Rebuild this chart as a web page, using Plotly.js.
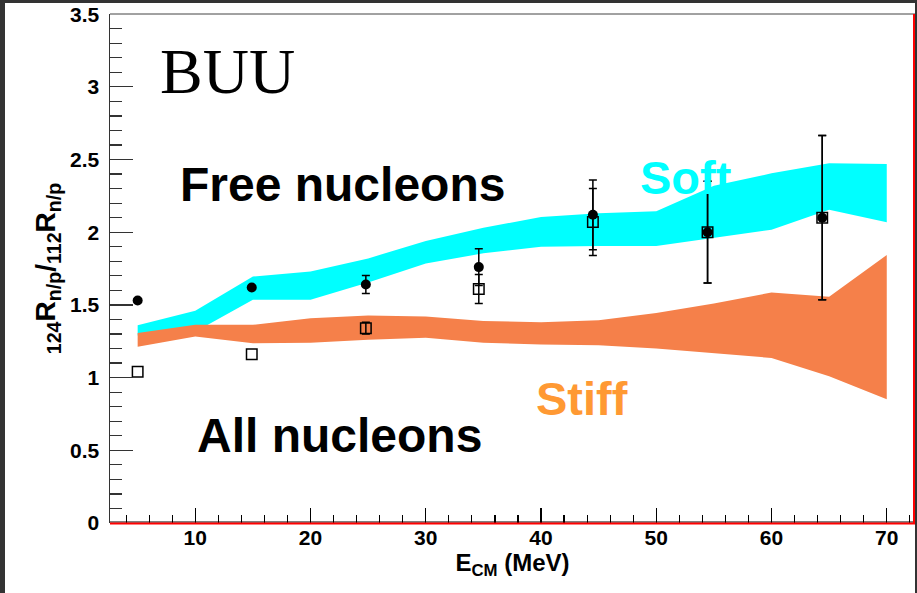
<!DOCTYPE html>
<html>
<head>
<meta charset="utf-8">
<script src="https://cdn.plot.ly/plotly-3.0.1.min.js"></script>
<style>
  html, body { margin: 0; padding: 0; background: #ffffff; }
  #chart {
    width: 910px; height: 590px;
    border-left: 5px solid #333333;
    border-top: 3px solid #333333;
    border-right: 2px solid #333333;
  }
</style>
</head>
<body>
<div id="chart"></div>
<script>
// Beam energies of the measured points (MeV)
const energy = [5.0, 14.9, 24.8, 34.6, 44.5, 54.45, 64.4];
// Double ratio 124R_n/p / 112R_n/p, free nucleons (solid circles)
const freeRatio = [1.53, 1.62, 1.64, 1.76, 2.12, 2.00, 2.10];
const freeErr   = [0, 0, 0.062, 0.126, 0.24, 0.35, 0.565];
// Double ratio, all nucleons (open squares)
const allRatio = [1.04, 1.16, 1.34, 1.61, 2.07, 2.00, 2.10];
const allErr   = [NaN, NaN, 0.04, 0.10, 0.23, 0.35, 0.565];

// BUU calculation bands
const bandE     = [5, 10, 15, 20, 25, 30, 35, 40, 45, 50, 55, 60, 65, 70];
const softHigh  = [1.36, 1.46, 1.695, 1.73, 1.82, 1.94, 2.03, 2.105, 2.13, 2.145, 2.32, 2.405, 2.475, 2.47];
const softLow   = [1.29, 1.315, 1.535, 1.535, 1.655, 1.785, 1.855, 1.90, 1.905, 1.905, 1.96, 2.017, 2.154, 2.069];
const stiffHigh = [1.306, 1.363, 1.363, 1.409, 1.427, 1.42, 1.39, 1.38, 1.395, 1.445, 1.51, 1.585, 1.557, 1.844];
const stiffLow  = [1.213, 1.282, 1.237, 1.24, 1.26, 1.275, 1.24, 1.228, 1.222, 1.20, 1.17, 1.135, 1.01, 0.851];

const xTickVals = [10, 20, 30, 40, 50, 60, 70];
const yTickVals = [0, 0.5, 1, 1.5, 2, 2.5, 3, 3.5];
const yTickText = ['0', '0.5', '1', '1.5', '2', '2.5', '3', '3.5'];

function bandTrace(hi, lo, color, name) {
  return {
    type: 'scatter', mode: 'lines', name: name,
    x: bandE.concat(bandE.slice().reverse()),
    y: hi.concat(lo.slice().reverse()),
    fill: 'toself', fillcolor: color,
    line: { width: 0, color: color },
    hoverinfo: 'skip', showlegend: false
  };
}

const traces = [
  bandTrace(softHigh, softLow, '#00ffff', 'Soft'),
  bandTrace(stiffHigh, stiffLow, '#f5804a', 'Stiff'),
  {
    type: 'scatter', mode: 'markers', name: 'All nucleons',
    x: energy, y: allRatio,
    marker: { symbol: 'square-open', size: 10.5, color: '#000000', line: { width: 1.5, color: '#000000' } },
    error_y: { type: 'data', array: allErr, visible: true, color: '#000000', thickness: 1.5, width: 4 },
    showlegend: false
  },
  {
    type: 'scatter', mode: 'markers', name: 'Free nucleons',
    x: energy, y: freeRatio,
    marker: { symbol: 'circle', size: 10, color: '#000000' },
    error_y: { type: 'data', array: freeErr, visible: true, color: '#000000', thickness: 1.5, width: 4 },
    showlegend: false
  }
];

const sansBold = { family: 'Liberation Sans, Arial, sans-serif', weight: 'bold', color: '#000000' };

const layout = {
  width: 910, height: 590,
  margin: { l: 105, r: 0, t: 11, b: 70, pad: 0 },
  paper_bgcolor: '#ffffff', plot_bgcolor: '#ffffff',
  showlegend: false,
  xaxis: {
    range: [2.6, 72.45],
    tickvals: xTickVals, ticktext: xTickVals.map(String),
    ticks: 'inside', ticklen: 15, tickwidth: 1.2, tickcolor: '#000000',
    minor: { ticks: 'inside', ticklen: 8, dtick: 2, tick0: 0, tickwidth: 1.2, tickcolor: '#000000', showgrid: false },
    showline: false, showgrid: false, zeroline: false,
    tickfont: Object.assign({ size: 21 }, sansBold),
    title: { text: 'E<sub>CM</sub> (MeV)', font: Object.assign({ size: 24 }, sansBold), standoff: 4 }
  },
  yaxis: {
    range: [0, 3.501],
    tickvals: yTickVals, ticktext: yTickText,
    ticks: 'inside', ticklen: 23, tickwidth: 1.2, tickcolor: '#333333',
    minor: { ticks: 'inside', ticklen: 12, dtick: 0.1, tick0: 0, tickwidth: 1.2, tickcolor: '#333333', showgrid: false },
    showline: true, linecolor: '#333333', linewidth: 1.5,
    showgrid: false, zeroline: false,
    ticklabelstandoff: 5,
    ticklabeloverflow: 'allow',
    tickfont: Object.assign({ size: 21 }, sansBold),
    title: {
      text: '<sub>124</sub>R<sub>n/p</sub>/<sub>112</sub>R<sub>n/p</sub>',
      font: Object.assign({ size: 28 }, sansBold),
      standoff: 6
    }
  },
  shapes: [
    // top frame line
    { type: 'line', xref: 'paper', yref: 'paper', x0: 0, x1: 1, y0: 1, y1: 1,
      line: { color: '#444444', width: 1 } },
    // bottom frame: thin black line with red line under it
    { type: 'line', xref: 'paper', yref: 'paper', x0: 0, x1: 1,
      ysizemode: 'pixel', yanchor: 0, y0: 1, y1: 1,
      line: { color: '#000000', width: 1 } },
    { type: 'line', xref: 'paper', yref: 'paper', x0: 0, x1: 1,
      ysizemode: 'pixel', yanchor: 0, y0: -0.5, y1: -0.5,
      line: { color: '#ff0000', width: 2 } },
    // right frame, red
    { type: 'line', xref: 'paper', yref: 'paper', y0: 0, y1: 1,
      xsizemode: 'pixel', xanchor: 1, x0: -1, x1: -1,
      line: { color: '#ff0000', width: 2 } }
  ],
  annotations: [
    { text: 'BUU', xref: 'x', yref: 'y', x: 6.8, y: 3.108, xanchor: 'left', yanchor: 'middle',
      showarrow: false, font: { family: 'Liberation Serif, Times New Roman, serif', size: 64, color: '#000000' } },
    { text: 'Free nucleons', xref: 'x', yref: 'y', x: 8.5, y: 2.326, xanchor: 'left', yanchor: 'middle',
      showarrow: false, font: Object.assign({ size: 48 }, sansBold) },
    { text: 'All nucleons', xref: 'x', yref: 'y', x: 9.95, y: 0.604, xanchor: 'left', yanchor: 'middle',
      showarrow: false, font: Object.assign({ size: 48 }, sansBold) },
    { text: 'Soft', xref: 'x', yref: 'y', x: 48.4, y: 2.378, xanchor: 'left', yanchor: 'middle',
      showarrow: false, font: { family: 'Liberation Sans, Arial, sans-serif', weight: 'bold', size: 47, color: '#00ffff' } },
    { text: 'Stiff', xref: 'x', yref: 'y', x: 39.4, y: 0.858, xanchor: 'left', yanchor: 'middle',
      showarrow: false, font: { family: 'Liberation Sans, Arial, sans-serif', weight: 'bold', size: 47, color: '#ff9933' } }
  ]
};

Plotly.newPlot('chart', traces, layout, { displayModeBar: false, staticPlot: true });
</script>
</body>
</html>
